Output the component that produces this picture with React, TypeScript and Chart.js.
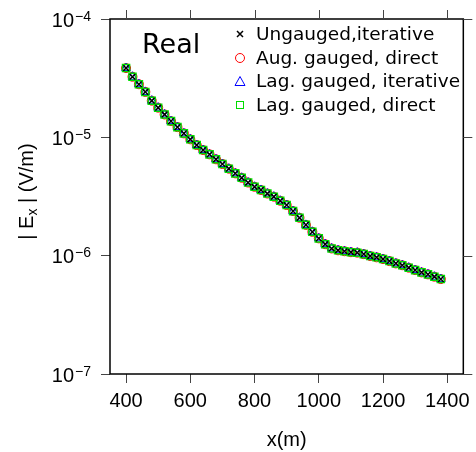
import React, { useEffect, useRef } from 'react';
import { Chart, registerables } from 'chart.js';
Chart.register(...registerables);

const xPositions = [400, 420, 440, 460, 480, 500, 520, 540, 560, 580, 600, 620, 640, 660, 680, 700, 720, 740, 760, 780, 800, 820, 840, 860, 880, 900, 920, 940, 960, 980, 1000, 1020, 1040, 1060, 1080, 1100, 1120, 1140, 1160, 1180, 1200, 1220, 1240, 1260, 1280, 1300, 1320, 1340, 1360, 1380];

const ungaugedIterative = [3.85e-5, 3.25e-5, 2.81e-5, 2.42e-5, 2.04e-5, 1.78e-5, 1.56e-5, 1.37e-5, 1.22e-5, 1.08e-5, 9.62e-6, 8.61e-6, 7.81e-6, 7.18e-6, 6.52e-6, 5.95e-6, 5.43e-6, 4.96e-6, 4.55e-6, 4.15e-6, 3.82e-6, 3.59e-6, 3.35e-6, 3.15e-6, 2.91e-6, 2.68e-6, 2.38e-6, 2.09e-6, 1.82e-6, 1.59e-6, 1.40e-6, 1.25e-6, 1.15e-6, 1.11e-6, 1.09e-6, 1.07e-6, 1.06e-6, 1.03e-6, 9.93e-7, 9.68e-7, 9.36e-7, 9.00e-7, 8.6e-7, 8.3e-7, 7.91e-7, 7.55e-7, 7.22e-7, 6.95e-7, 6.64e-7, 6.34e-7];
const augGaugedDirect = [3.85e-5, 3.25e-5, 2.81e-5, 2.42e-5, 2.04e-5, 1.78e-5, 1.56e-5, 1.37e-5, 1.22e-5, 1.08e-5, 9.62e-6, 8.61e-6, 7.81e-6, 7.18e-6, 6.52e-6, 5.95e-6, 5.43e-6, 4.96e-6, 4.55e-6, 4.15e-6, 3.82e-6, 3.59e-6, 3.35e-6, 3.15e-6, 2.91e-6, 2.68e-6, 2.38e-6, 2.09e-6, 1.82e-6, 1.59e-6, 1.40e-6, 1.25e-6, 1.15e-6, 1.11e-6, 1.09e-6, 1.07e-6, 1.06e-6, 1.03e-6, 9.93e-7, 9.68e-7, 9.36e-7, 9.00e-7, 8.6e-7, 8.3e-7, 7.91e-7, 7.55e-7, 7.22e-7, 6.95e-7, 6.64e-7, 6.34e-7];
const lagGaugedIterative = [3.85e-5, 3.25e-5, 2.81e-5, 2.42e-5, 2.04e-5, 1.78e-5, 1.56e-5, 1.37e-5, 1.22e-5, 1.08e-5, 9.62e-6, 8.61e-6, 7.81e-6, 7.18e-6, 6.52e-6, 5.95e-6, 5.43e-6, 4.96e-6, 4.55e-6, 4.15e-6, 3.82e-6, 3.59e-6, 3.35e-6, 3.15e-6, 2.91e-6, 2.68e-6, 2.38e-6, 2.09e-6, 1.82e-6, 1.59e-6, 1.40e-6, 1.25e-6, 1.15e-6, 1.11e-6, 1.09e-6, 1.07e-6, 1.06e-6, 1.03e-6, 9.93e-7, 9.68e-7, 9.36e-7, 9.00e-7, 8.6e-7, 8.3e-7, 7.91e-7, 7.55e-7, 7.22e-7, 6.95e-7, 6.64e-7, 6.34e-7];
const lagGaugedDirect = [3.85e-5, 3.25e-5, 2.81e-5, 2.42e-5, 2.04e-5, 1.78e-5, 1.56e-5, 1.37e-5, 1.22e-5, 1.08e-5, 9.62e-6, 8.61e-6, 7.81e-6, 7.18e-6, 6.52e-6, 5.95e-6, 5.43e-6, 4.96e-6, 4.55e-6, 4.15e-6, 3.82e-6, 3.59e-6, 3.35e-6, 3.15e-6, 2.91e-6, 2.68e-6, 2.38e-6, 2.09e-6, 1.82e-6, 1.59e-6, 1.40e-6, 1.25e-6, 1.15e-6, 1.11e-6, 1.09e-6, 1.07e-6, 1.06e-6, 1.03e-6, 9.93e-7, 9.68e-7, 9.36e-7, 9.00e-7, 8.6e-7, 8.3e-7, 7.91e-7, 7.55e-7, 7.22e-7, 6.95e-7, 6.64e-7, 6.34e-7];

const seriesLabels = ['Ungauged,iterative', 'Aug. gauged, direct', 'Lag. gauged, iterative', 'Lag. gauged, direct'];
const xTicks = [400, 600, 800, 1000, 1200, 1400];
const yTickExponents = [-4, -5, -6, -7];
const panelLabel = 'Real';
const xTitle = 'x(m)';

const TICK_FONT = '"Liberation Sans", Arial, sans-serif';
const LEGEND_FONT = '"DejaVu Sans", sans-serif';

function toPoints(ys: number[]) {
  return xPositions.map((x, i) => ({ x, y: ys[i] }));
}

function drawMarker(ctx: CanvasRenderingContext2D, kind: string, x: number, y: number) {
  ctx.save();
  ctx.lineWidth = 1;
  if (kind === 'x') {
    ctx.strokeStyle = '#000';
    ctx.lineWidth = 1.5;
    const s = 3;
    ctx.beginPath();
    ctx.moveTo(x - s, y - s); ctx.lineTo(x + s, y + s);
    ctx.moveTo(x - s, y + s); ctx.lineTo(x + s, y - s);
    ctx.stroke();
  } else if (kind === 'circle') {
    ctx.strokeStyle = '#ff0000';
    ctx.beginPath();
    ctx.arc(x, y, 4.5, 0, Math.PI * 2);
    ctx.stroke();
  } else if (kind === 'triangle') {
    ctx.strokeStyle = '#0000ff';
    ctx.beginPath();
    ctx.moveTo(x, y - 5);
    ctx.lineTo(x + 5, y + 4);
    ctx.lineTo(x - 5, y + 4);
    ctx.closePath();
    ctx.stroke();
  } else {
    ctx.strokeStyle = '#00dd00';
    ctx.strokeRect(x - 3.5, y - 3.5, 7, 7);
  }
  ctx.restore();
}

const decorPlugin = {
  id: 'decor',
  afterDraw(chart: any) {
    const ctx: CanvasRenderingContext2D = chart.ctx;
    const { left, right, top, bottom } = chart.chartArea;
    const xs = chart.scales.x;
    const ys = chart.scales.y;
    ctx.save();
    ctx.strokeStyle = '#000';
    ctx.lineWidth = 1.5;
    ctx.strokeRect(left, top, right - left, bottom - top);
    ctx.strokeStyle = '#444';
    ctx.lineWidth = 1;
    ctx.beginPath();
    for (const v of xTicks) {
      const px = Math.round(xs.getPixelForValue(v)) + 0.5;
      ctx.moveTo(px, top);
      ctx.lineTo(px, top - 9);
    }
    for (const e of yTickExponents) {
      const py = Math.round(ys.getPixelForValue(Math.pow(10, e))) + 0.5;
      ctx.moveTo(right, py);
      ctx.lineTo(right + 9, py);
    }
    ctx.stroke();

    ctx.fillStyle = '#000';
    ctx.textBaseline = 'alphabetic';
    ctx.textAlign = 'left';
    for (const e of yTickExponents) {
      const py = ys.getPixelForValue(Math.pow(10, e));
      const base = '10';
      const sup = '\u2212' + String(-e);
      ctx.font = `20px ${TICK_FONT}`;
      const w1 = ctx.measureText(base).width;
      ctx.font = `14px ${TICK_FONT}`;
      const w2 = ctx.measureText(sup).width;
      const rightEdge = 91;
      ctx.font = `20px ${TICK_FONT}`;
      ctx.fillText(base, rightEdge - w2 - w1 - 1, py + 7.5);
      ctx.font = `14px ${TICK_FONT}`;
      ctx.fillText(sup, rightEdge - w2, py + 1.5);
    }

    ctx.save();
    ctx.translate(33, (top + bottom) / 2 - 5);
    ctx.rotate(-Math.PI / 2);
    const parts = [
      { t: '| E', size: 20, dy: 0 },
      { t: 'x', size: 14, dy: 4 },
      { t: ' | (V/m)', size: 20, dy: 0 },
    ];
    let total = 0;
    for (const p of parts) {
      ctx.font = `${p.size}px ${TICK_FONT}`;
      total += ctx.measureText(p.t).width;
    }
    let cx = -total / 2;
    for (const p of parts) {
      ctx.font = `${p.size}px ${TICK_FONT}`;
      ctx.fillText(p.t, cx, p.dy);
      cx += ctx.measureText(p.t).width;
    }
    ctx.restore();

    ctx.font = `20px ${TICK_FONT}`;
    ctx.textAlign = 'center';
    ctx.textBaseline = 'middle';
    ctx.fillText(xTitle, (left + right) / 2, 440);

    ctx.font = `27px ${LEGEND_FONT}`;
    ctx.textAlign = 'left';
    ctx.textBaseline = 'alphabetic';
    ctx.fillText(panelLabel, 142, 53);

    const kinds = ['x', 'circle', 'triangle', 'square'];
    const rowY = [34, 58, 81.5, 105];
    ctx.font = `18.5px ${LEGEND_FONT}`;
    ctx.textBaseline = 'middle';
    for (let i = 0; i < seriesLabels.length; i++) {
      drawMarker(ctx, kinds[i], 240, rowY[i]);
      ctx.fillStyle = '#000';
      ctx.fillText(seriesLabels[i], 256, rowY[i] + 1);
    }
    ctx.restore();
  },
};

export default function App() {
  const ref = useRef<HTMLCanvasElement>(null);
  useEffect(() => {
    const chart = new Chart(ref.current as HTMLCanvasElement, {
      type: 'scatter',
      data: {
        datasets: [
          {
            label: seriesLabels[0],
            data: toPoints(ungaugedIterative),
            pointStyle: 'crossRot',
            pointRadius: 4,
            borderColor: '#000',
            backgroundColor: '#000',
            pointBorderWidth: 1.5,
            showLine: false,
            order: 0,
          },
          {
            label: seriesLabels[1],
            data: toPoints(augGaugedDirect),
            pointStyle: 'circle',
            pointRadius: 4.5,
            borderColor: '#ff0000',
            backgroundColor: 'rgba(0,0,0,0)',
            pointBorderWidth: 1,
            showLine: false,
            order: 3,
          },
          {
            label: seriesLabels[2],
            data: toPoints(lagGaugedIterative),
            pointStyle: 'triangle',
            pointRadius: 5,
            borderColor: '#0000ff',
            backgroundColor: 'rgba(0,0,0,0)',
            pointBorderWidth: 1,
            showLine: false,
            order: 2,
          },
          {
            label: seriesLabels[3],
            data: toPoints(lagGaugedDirect),
            pointStyle: 'rect',
            pointRadius: 5,
            borderColor: '#00dd00',
            backgroundColor: 'rgba(0,0,0,0)',
            pointBorderWidth: 1.5,
            showLine: false,
            order: 1,
          },
        ],
      },
      options: {
        animation: false,
        responsive: false,
        devicePixelRatio: 1,
        layout: { padding: { top: 19, right: 11, left: 0, bottom: 0 } },
        plugins: { legend: { display: false }, tooltip: { enabled: false } },
        scales: {
          x: {
            type: 'linear',
            min: 350,
            max: 1450,
            border: { display: false },
            grid: { drawOnChartArea: false, drawTicks: true, tickLength: 9, color: '#444', lineWidth: 1 },
            ticks: {
              font: { family: TICK_FONT, size: 20 },
              color: '#000',
              padding: 6,
              maxRotation: 0,
              autoSkip: false,
              callback: (v: any) => String(v),
            },
            afterBuildTicks: (scale: any) => {
              scale.ticks = xTicks.map((v) => ({ value: v }));
            },
            afterFit: (scale: any) => {
              scale.height = 78;
            },
          },
          y: {
            type: 'logarithmic',
            min: 1e-7,
            max: 1e-4,
            border: { display: false },
            grid: { drawOnChartArea: false, drawTicks: true, tickLength: 9, color: '#444', lineWidth: 1 },
            ticks: { display: false },
            afterBuildTicks: (scale: any) => {
              scale.ticks = yTickExponents.map((e) => ({ value: Math.pow(10, e) }));
            },
            afterFit: (scale: any) => {
              scale.width = 110;
            },
          },
        },
      },
      plugins: [decorPlugin],
    });
    return () => chart.destroy();
  }, []);
  return (
    <div style={{ position: 'absolute', left: 0, top: 0, width: 476, height: 452, background: '#fff' }}>
      <canvas ref={ref} width={476} height={452} style={{ display: 'block', width: 476, height: 452 }} />
    </div>
  );
}
